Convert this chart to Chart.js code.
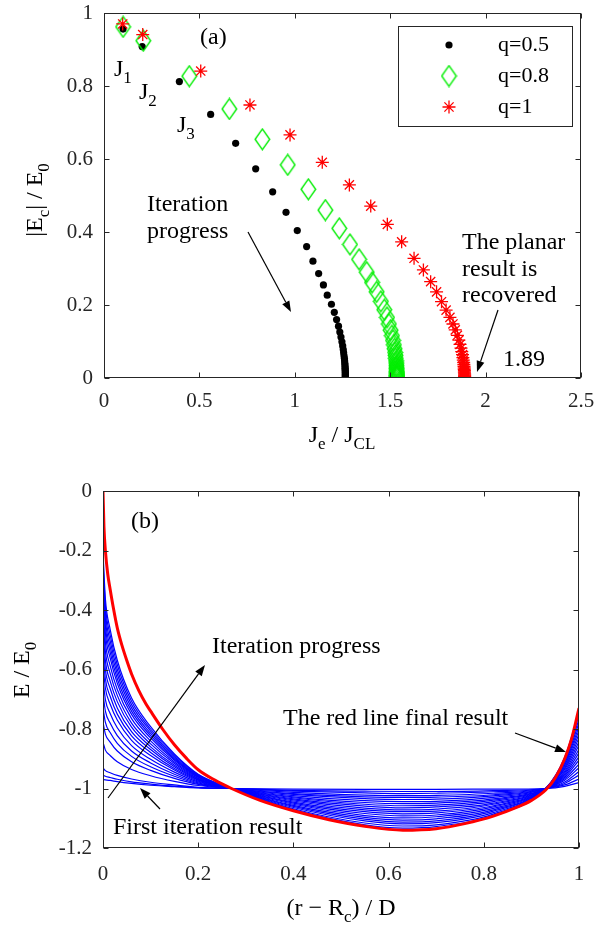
<!DOCTYPE html>
<html><head><meta charset="utf-8">
<script src="https://cdn.jsdelivr.net/npm/chart.js@4.4.1/dist/chart.umd.min.js"></script>
<style>
html,body{margin:0;padding:0;background:#fff;}
#wrap{position:relative;width:594px;height:926px;overflow:hidden;background:#fff;}
#c1{position:absolute;left:0;top:0;width:594px;height:460px;}
#c2{position:absolute;left:0;top:460px;width:594px;height:466px;}
</style></head><body>
<div id="wrap"><canvas id="c1" width="594" height="460"></canvas><canvas id="c2" width="594" height="466"></canvas></div>
<script>
// ---------- panel (a) data ----------
const q05_J = [0.10,0.20,0.395,0.559,0.69,0.795,0.884,0.954,1.013,1.062,1.095,1.125,1.15,1.17,1.192,1.207,1.219,1.229,1.236,1.242,1.247,1.251,1.254,1.256,1.258,1.26,1.261,1.262,1.263,1.263,1.264,1.264,1.264,1.265,1.265,1.265,1.265,1.265,1.265,1.265,1.265];
const q05_E = [0.956,0.908,0.812,0.722,0.643,0.573,0.51,0.454,0.404,0.36,0.32,0.286,0.255,0.227,0.202,0.18,0.16,0.142,0.126,0.112,0.099,0.088,0.078,0.069,0.061,0.054,0.047,0.041,0.036,0.031,0.027,0.023,0.019,0.016,0.013,0.01,0.008,0.006,0.004,0.002,0];
const q08_J = [0.10,0.206,0.447,0.657,0.83,0.963,1.071,1.16,1.233,1.289,1.337,1.377,1.405,1.429,1.451,1.469,1.483,1.493,1.502,1.509,1.515,1.519,1.523,1.526,1.528,1.529,1.531,1.532,1.533,1.533,1.534,1.534,1.534,1.535,1.535,1.535,1.535,1.535,1.535,1.535];
const q08_E = [0.962,0.924,0.827,0.737,0.654,0.584,0.517,0.46,0.41,0.366,0.325,0.29,0.262,0.236,0.21,0.187,0.166,0.148,0.131,0.116,0.103,0.091,0.08,0.07,0.062,0.054,0.047,0.041,0.035,0.03,0.026,0.022,0.018,0.015,0.012,0.009,0.007,0.005,0.003,0];
const q10_J = [0.098,0.203,0.507,0.765,0.975,1.144,1.286,1.398,1.485,1.56,1.625,1.674,1.712,1.743,1.769,1.793,1.813,1.829,1.841,1.852,1.86,1.866,1.871,1.875,1.879,1.881,1.883,1.885,1.886,1.887,1.888,1.888,1.889,1.889,1.889,1.89,1.89,1.89,1.89,1.89,1.89];
const q10_E = [0.97,0.941,0.841,0.748,0.666,0.591,0.529,0.471,0.421,0.373,0.328,0.296,0.264,0.236,0.209,0.186,0.166,0.148,0.132,0.117,0.104,0.092,0.082,0.072,0.064,0.056,0.049,0.043,0.037,0.032,0.028,0.024,0.02,0.017,0.014,0.011,0.008,0.006,0.004,0.002,0];
const seriesLabelsA = ['q=0.5','q=0.8','q=1'];
const xRangeA = [0, 2.5], xStepA = 0.5;
const yRangeA = [0, 1], yStepA = 0.2;

// ---------- panel (b) data ----------
const finalR = [0,0.002,0.005,0.01,0.015,0.022,0.03,0.04,0.05,0.06,0.075,0.09,0.1,0.125,0.15,0.175,0.2,0.235,0.27,0.33,0.4,0.475,0.55,0.63,0.7,0.76,0.82,0.87,0.9,0.93,0.95,0.97,0.985,1];
const finalE = [0,-0.12,-0.2,-0.28,-0.33,-0.395,-0.46,-0.52,-0.57,-0.615,-0.67,-0.715,-0.74,-0.8,-0.853,-0.898,-0.937,-0.972,-1.0,-1.04,-1.075,-1.105,-1.127,-1.14,-1.135,-1.118,-1.093,-1.063,-1.04,-1.005,-0.965,-0.9,-0.83,-0.73];
const rGrid  = [0,0.005,0.015,0.03,0.06,0.1,0.15,0.2,0.27,0.4,0.55,0.63,0.7,0.82,0.93,0.97,1];
const iter01 = [-0.97,-0.971,-0.973,-0.977,-0.983,-0.989,-0.994,-0.998,-1.0,-1.002,-1.003,-1.003,-1.003,-1.002,-1.0,-0.993,-0.98];
const iter02 = [-0.955,-0.959,-0.963,-0.969,-0.978,-0.985,-0.992,-0.997,-1.0,-1.006,-1.009,-1.01,-1.01,-1.007,-1.0,-0.988,-0.968];
const iter03 = [-0.931,-0.94,-0.947,-0.956,-0.968,-0.979,-0.988,-0.996,-1.0,-1.009,-1.015,-1.017,-1.016,-1.011,-1.0,-0.983,-0.955];
const iter04 = [-0.844,-0.871,-0.889,-0.91,-0.936,-0.957,-0.976,-0.99,-1.0,-1.013,-1.022,-1.024,-1.023,-1.016,-1.0,-0.978,-0.943];
const iter05 = [-0.776,-0.817,-0.844,-0.874,-0.91,-0.939,-0.966,-0.986,-1.0,-1.017,-1.028,-1.03,-1.029,-1.021,-1.0,-0.972,-0.93];
const iter06 = [-0.728,-0.778,-0.812,-0.848,-0.892,-0.927,-0.959,-0.984,-1.0,-1.02,-1.034,-1.037,-1.036,-1.025,-1.0,-0.967,-0.918];
const iter07 = [-0.679,-0.74,-0.78,-0.822,-0.874,-0.914,-0.952,-0.981,-1.0,-1.024,-1.041,-1.044,-1.043,-1.03,-1.0,-0.962,-0.905];
const iter08 = [-0.631,-0.701,-0.748,-0.796,-0.856,-0.902,-0.945,-0.978,-1.0,-1.028,-1.047,-1.051,-1.049,-1.035,-1.0,-0.957,-0.893];
const iter09 = [-0.582,-0.663,-0.716,-0.77,-0.838,-0.889,-0.938,-0.975,-1.0,-1.031,-1.053,-1.058,-1.056,-1.039,-1.0,-0.952,-0.88];
const iter10 = [-0.543,-0.632,-0.69,-0.75,-0.823,-0.879,-0.933,-0.972,-1.0,-1.035,-1.059,-1.065,-1.062,-1.044,-1.0,-0.947,-0.868];
const iter11 = [-0.504,-0.601,-0.664,-0.729,-0.809,-0.869,-0.927,-0.97,-1.0,-1.038,-1.066,-1.072,-1.069,-1.049,-1.0,-0.942,-0.855];
const iter12 = [-0.466,-0.57,-0.639,-0.708,-0.794,-0.86,-0.922,-0.968,-1.0,-1.042,-1.072,-1.078,-1.076,-1.053,-1.0,-0.936,-0.843];
const iter13 = [-0.427,-0.539,-0.613,-0.687,-0.78,-0.85,-0.916,-0.966,-1.0,-1.046,-1.078,-1.085,-1.082,-1.058,-1.0,-0.931,-0.83];
const iter14 = [-0.388,-0.508,-0.587,-0.667,-0.765,-0.84,-0.911,-0.963,-1.0,-1.049,-1.084,-1.092,-1.089,-1.062,-1.0,-0.926,-0.818];
const iter15 = [-0.349,-0.478,-0.561,-0.646,-0.751,-0.83,-0.905,-0.961,-1.0,-1.053,-1.091,-1.099,-1.095,-1.067,-1.0,-0.921,-0.805];
const iter16 = [-0.32,-0.454,-0.542,-0.631,-0.74,-0.822,-0.901,-0.959,-1.0,-1.057,-1.097,-1.106,-1.102,-1.072,-1.0,-0.916,-0.793];
const iter17 = [-0.291,-0.431,-0.523,-0.615,-0.729,-0.815,-0.897,-0.957,-1.0,-1.06,-1.103,-1.113,-1.109,-1.076,-1.0,-0.911,-0.78];
const iter18 = [-0.262,-0.408,-0.504,-0.6,-0.718,-0.807,-0.893,-0.956,-1.0,-1.064,-1.109,-1.119,-1.115,-1.081,-1.0,-0.905,-0.768];
const iter19 = [-0.233,-0.385,-0.484,-0.584,-0.707,-0.8,-0.888,-0.954,-1.0,-1.068,-1.116,-1.126,-1.122,-1.086,-1.0,-0.9,-0.755];
const iter20 = [-0.204,-0.362,-0.465,-0.569,-0.696,-0.792,-0.884,-0.952,-1.0,-1.071,-1.122,-1.133,-1.128,-1.09,-1.0,-0.895,-0.743];
const iterations = [iter01,iter02,iter03,iter04,iter05,iter06,iter07,iter08,iter09,iter10,iter11,iter12,iter13,iter14,iter15,iter16,iter17,iter18,iter19,iter20];
const xRangeB = [0, 1], xStepB = 0.2;
const yRangeB = [-1.2, 0], yStepB = 0.2;

// ---------- helpers ----------
const SERIF = "'Liberation Serif','Times New Roman',serif";
const AXIS = '#262626';
const pts = (xs, ys) => xs.slice(0, Math.min(xs.length, ys.length)).map((x, i) => ({x, y: ys[i]}));
const fmt = v => String(Number(Number(v).toFixed(3)));

function makeDiamond() {
  const c = document.createElement('canvas');
  c.width = 17; c.height = 23;
  const g = c.getContext('2d');
  g.strokeStyle = '#00ee00'; g.lineWidth = 1.4;
  g.beginPath(); g.moveTo(8.5, 1.2); g.lineTo(15.8, 11.5); g.lineTo(8.5, 21.8); g.lineTo(1.2, 11.5); g.closePath(); g.stroke();
  return c;
}
const diamondImg = makeDiamond();

function rich(ctx, parts, x, y, align, size) {
  const sub = Math.round(size * 0.72);
  let w = 0;
  parts.forEach(p => { ctx.font = (p[1] ? sub : size) + 'px ' + SERIF; w += ctx.measureText(p[0]).width; });
  let cx = align === 'center' ? x - w / 2 : (align === 'right' ? x - w : x);
  ctx.textAlign = 'left'; ctx.textBaseline = 'alphabetic';
  parts.forEach(p => {
    ctx.font = (p[1] ? sub : size) + 'px ' + SERIF;
    ctx.fillText(p[0], cx, p[1] ? y + size * 0.3 : y);
    cx += ctx.measureText(p[0]).width;
  });
}
function text(ctx, s, x, y, size) {
  ctx.font = size + 'px ' + SERIF; ctx.textAlign = 'left'; ctx.textBaseline = 'middle';
  ctx.fillStyle = '#000'; ctx.fillText(s, x, y);
}
function arrow(ctx, x1, y1, x2, y2) {
  ctx.save(); ctx.strokeStyle = '#000'; ctx.fillStyle = '#000'; ctx.lineWidth = 1.2;
  const a = Math.atan2(y2 - y1, x2 - x1), L = 11, W = 4;
  const bx = x2 - L * Math.cos(a), by = y2 - L * Math.sin(a);
  ctx.beginPath(); ctx.moveTo(x1, y1); ctx.lineTo(bx, by); ctx.stroke();
  ctx.beginPath(); ctx.moveTo(x2, y2);
  ctx.lineTo(bx + W * Math.sin(a), by - W * Math.cos(a));
  ctx.lineTo(bx - W * Math.sin(a), by + W * Math.cos(a));
  ctx.closePath(); ctx.fill(); ctx.restore();
}
function drawFrame(chart) {
  const ctx = chart.ctx, a = chart.chartArea, xs = chart.scales.x, ys = chart.scales.y;
  ctx.save(); ctx.strokeStyle = AXIS; ctx.lineWidth = 1;
  const L = Math.round(a.left) + 0.5, R = Math.round(a.right) - 0.5, T = Math.round(a.top) + 0.5, B = Math.round(a.bottom) - 0.5;
  ctx.strokeRect(L, T, R - L, B - T);
  ctx.beginPath();
  xs.ticks.forEach(t => { const p = Math.round(xs.getPixelForValue(t.value)) + 0.5; ctx.moveTo(p, B); ctx.lineTo(p, B - 5); ctx.moveTo(p, T); ctx.lineTo(p, T + 5); });
  ys.ticks.forEach(t => { const p = Math.round(ys.getPixelForValue(t.value)) + 0.5; ctx.moveTo(L, p); ctx.lineTo(L + 5, p); ctx.moveTo(R, p); ctx.lineTo(R - 5, p); });
  ctx.stroke(); ctx.restore();
}
function noPad(s) { s.paddingTop = 0; s.paddingBottom = 0; s.paddingLeft = 0; s.paddingRight = 0; }
function axisScales(xr, xs, yr, ys, xPad, yW, xH) {
  const tickFont = {family: SERIF, size: 21};
  return {
    x: {type: 'linear', min: xr[0], max: xr[1],
        ticks: {stepSize: xs, font: tickFont, color: AXIS, padding: xPad, maxRotation: 0, callback: fmt},
        grid: {display: false, drawTicks: false}, border: {display: false},
        afterFit: s => { s.height = xH; noPad(s); }},
    y: {type: 'linear', min: yr[0], max: yr[1],
        ticks: {stepSize: ys, font: tickFont, color: AXIS, padding: 11, callback: fmt},
        grid: {display: false, drawTicks: false}, border: {display: false},
        afterFit: s => { s.width = yW; noPad(s); }}
  };
}

// ---------- panel (a) ----------
const decorA = {
  id: 'decorA',
  afterDraw(chart) {
    const ctx = chart.ctx;
    drawFrame(chart);
    ctx.save(); ctx.fillStyle = '#000';
    // legend
    ctx.fillStyle = '#fff'; ctx.fillRect(398.5, 26.5, 174, 100);
    ctx.strokeStyle = AXIS; ctx.lineWidth = 1; ctx.strokeRect(398.5, 26.5, 174, 100);
    const rows = [45, 76, 107];
    ctx.fillStyle = '#000'; ctx.beginPath(); ctx.arc(449, rows[0], 3.6, 0, Math.PI * 2); ctx.fill();
    ctx.drawImage(diamondImg, 449 - 8.5, rows[1] - 11.5);
    ctx.strokeStyle = '#ff0000'; ctx.lineWidth = 1.3; ctx.beginPath();
    for (let k = 0; k < 4; k++) { const an = k * Math.PI / 4, r = 6.5; ctx.moveTo(449 - r * Math.cos(an), rows[2] - r * Math.sin(an)); ctx.lineTo(449 + r * Math.cos(an), rows[2] + r * Math.sin(an)); }
    ctx.stroke();
    seriesLabelsA.forEach((s, i) => text(ctx, s, 498, rows[i], 22));
    // annotations
    text(ctx, '(a)', 200, 38, 24);
    ctx.fillStyle = '#000';
    rich(ctx, [['J', 0], ['1', 1]], 114, 76, 'left', 24);
    rich(ctx, [['J', 0], ['2', 1]], 139, 99, 'left', 24);
    rich(ctx, [['J', 0], ['3', 1]], 177, 132, 'left', 24);
    text(ctx, 'Iteration', 147, 205, 24);
    text(ctx, 'progress', 147, 232, 24);
    arrow(ctx, 248, 232, 291, 312);
    text(ctx, 'The planar', 462, 243, 24);
    text(ctx, 'result is', 462, 270, 24);
    text(ctx, 'recovered', 462, 296, 24);
    arrow(ctx, 498, 310, 477, 372);
    text(ctx, '1.89', 503, 360, 24);
    // axis titles
    ctx.fillStyle = '#000';
    rich(ctx, [['J', 0], ['e', 1], [' / J', 0], ['CL', 1]], 342, 442, 'center', 24);
    ctx.save(); ctx.translate(42, 200); ctx.rotate(-Math.PI / 2);
    rich(ctx, [['|E', 0], ['c', 1], ['| / E', 0], ['0', 1]], 0, 0, 'center', 24);
    ctx.restore();
    ctx.restore();
  }
};

new Chart(document.getElementById('c1'), {
  type: 'scatter',
  data: {datasets: [
    {label: seriesLabelsA[2], data: pts(q10_J, q10_E), pointStyle: 'star', pointRadius: 6.5, borderColor: '#ff0000', backgroundColor: '#ff0000', borderWidth: 1.3},
    {label: seriesLabelsA[1], data: pts(q08_J, q08_E), pointStyle: diamondImg, pointRadius: 8},
    {label: seriesLabelsA[0], data: pts(q05_J, q05_E), pointStyle: 'circle', pointRadius: 3.6, borderWidth: 0, backgroundColor: '#000', borderColor: '#000'}
  ]},
  options: {
    responsive: false, animation: false, devicePixelRatio: 1,
    layout: {padding: {left: 0, right: 13, top: 13, bottom: 0}},
    plugins: {legend: {display: false}, tooltip: {enabled: false}},
    scales: axisScales(xRangeA, xStepA, yRangeA, yStepA, 11, 104, 82),
    elements: {point: {hoverRadius: 0}}
  },
  plugins: [decorA]
});

// ---------- panel (b) ----------
const decorB = {
  id: 'decorB',
  afterDraw(chart) {
    const ctx = chart.ctx;
    drawFrame(chart);
    ctx.save(); ctx.fillStyle = '#000';
    const o = 460;
    text(ctx, '(b)', 131, 522 - o, 24);
    text(ctx, 'Iteration progress', 212, 647 - o, 24);
    arrow(ctx, 108, 798 - o, 205, 665 - o);
    text(ctx, 'The red line final result', 283, 719 - o, 24);
    arrow(ctx, 515, 733 - o, 566, 752 - o);
    text(ctx, 'First iteration result', 113, 828 - o, 24);
    arrow(ctx, 160, 809 - o, 140, 788 - o);
    ctx.fillStyle = '#000';
    rich(ctx, [['(r \u2212 R', 0], ['c', 1], [') / D', 0]], 341, 915 - o, 'center', 24);
    ctx.save(); ctx.translate(29, 670 - o); ctx.rotate(-Math.PI / 2);
    rich(ctx, [['E / E', 0], ['0', 1]], 0, 0, 'center', 24);
    ctx.restore();
    ctx.restore();
  }
};

const dsB = [{data: pts(finalR, finalE), borderColor: '#ff0000', borderWidth: 3, showLine: true, pointRadius: 0, cubicInterpolationMode: 'monotone'}];
iterations.forEach(arr => dsB.push({data: pts(rGrid, arr), borderColor: '#0000ff', borderWidth: 1.2, showLine: true, pointRadius: 0, cubicInterpolationMode: 'monotone'}));

new Chart(document.getElementById('c2'), {
  type: 'scatter',
  data: {datasets: dsB},
  options: {
    responsive: false, animation: false, devicePixelRatio: 1,
    layout: {padding: {left: 0, right: 15, top: 31, bottom: 0}},
    plugins: {legend: {display: false}, tooltip: {enabled: false}},
    scales: axisScales(xRangeB, xStepB, yRangeB, yStepB, 14, 103, 78),
    elements: {point: {hoverRadius: 0}}
  },
  plugins: [decorB]
});
</script>
</body></html>
